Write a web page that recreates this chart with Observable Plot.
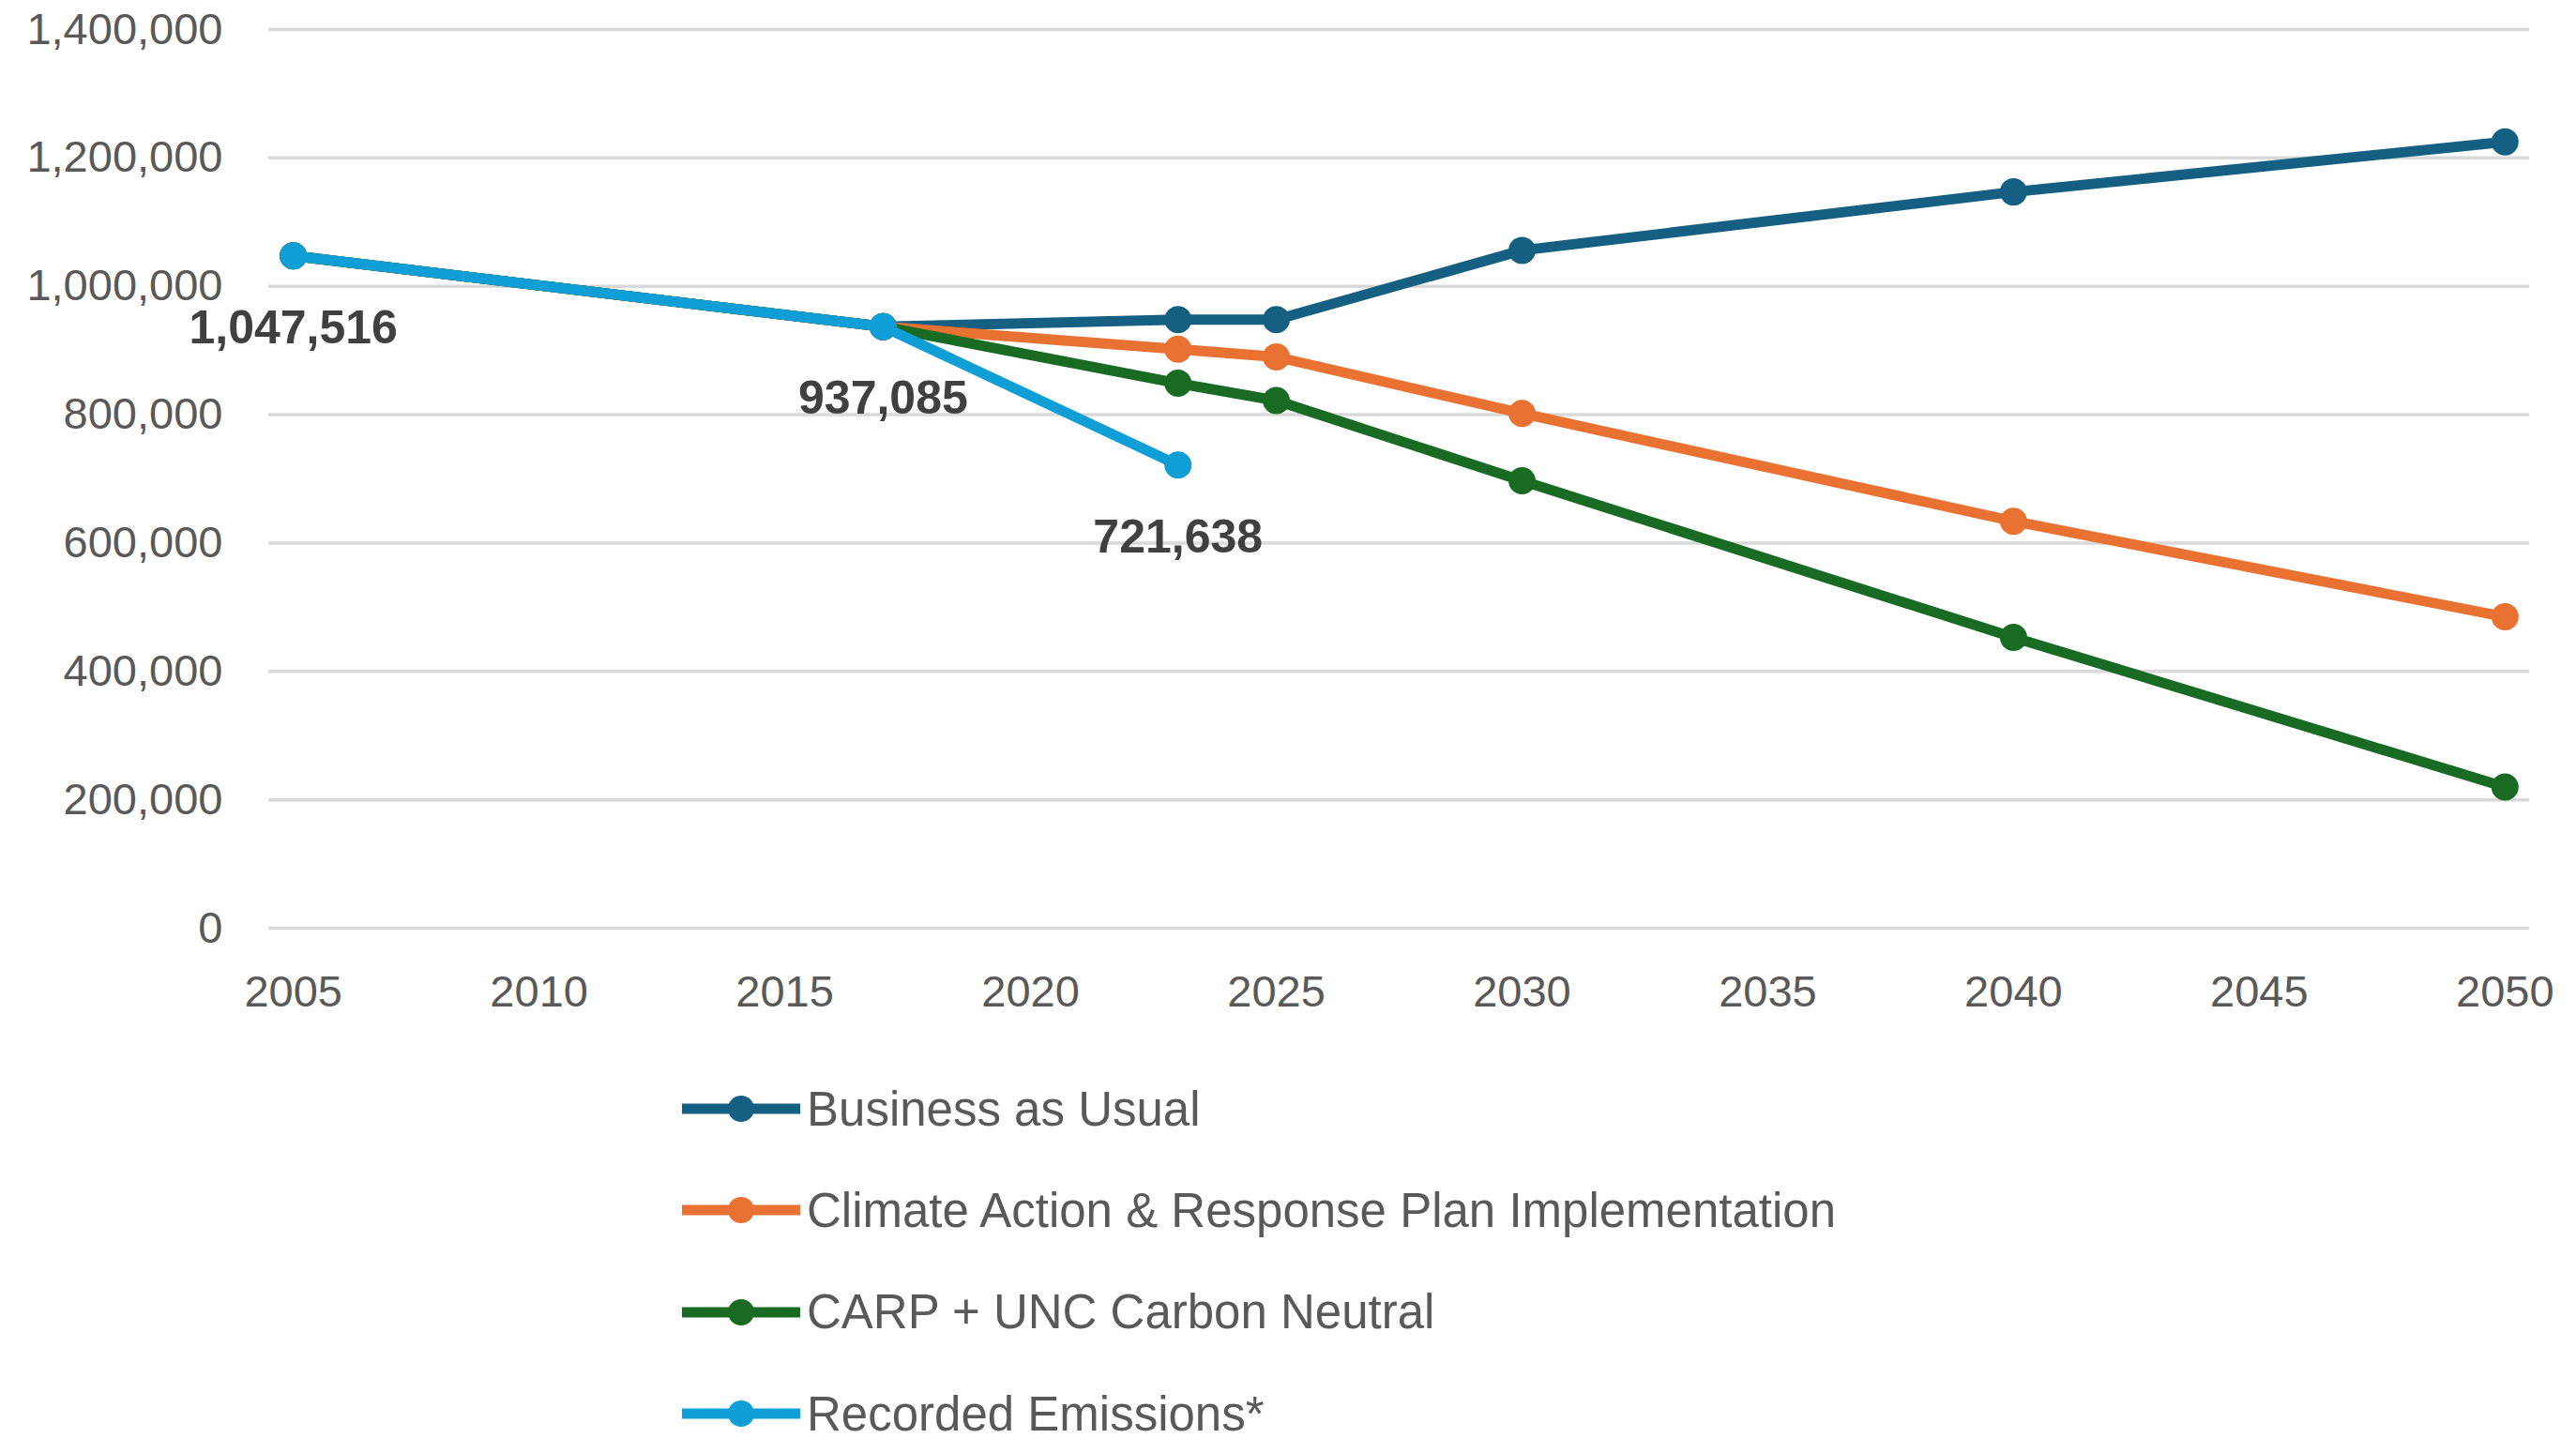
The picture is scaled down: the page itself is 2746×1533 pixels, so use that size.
<!DOCTYPE html>
<html>
<head>
<meta charset="utf-8">
<script src="https://cdn.jsdelivr.net/npm/d3@7"></script>
<script src="https://cdn.jsdelivr.net/npm/@observablehq/plot@0.6"></script>
<style>
  html, body { margin: 0; padding: 0; background: #fff; overflow: hidden; }
  body { width: 2746px; height: 1533px; font-family: "Liberation Sans", Arial, sans-serif; }
  #legend { padding-top: 18px; padding-left: 727px; }
  .row { height: 108.3px; display: flex; align-items: center; }
  .row span { font-size: 51px; color: #595959; margin-left: 7px; white-space: nowrap; }
</style>
</head>
<body>
<div id="chart"></div>
<div id="legend"></div>
<script>
// ---- data ----
const scenarioYears = [2005, 2017, 2023, 2025, 2030, 2040, 2050];
const businessAsUsual = [1047516, 937085, 948000, 948000, 1056000, 1147000, 1225000];
const carpImplementation = [1047516, 937085, 902000, 890000, 802000, 634000, 485000];
const carpUncNeutral = [1047516, 937085, 849000, 822000, 697000, 453000, 220000];
const recordedYears = [2005, 2017, 2023];
const recordedEmissions = [1047516, 937085, 721638];

const seriesNames = [
  "Business as Usual",
  "Climate Action & Response Plan Implementation",
  "CARP + UNC Carbon Neutral",
  "Recorded Emissions*"
];
const seriesColors = ["#156082", "#E97132", "#196B24", "#0F9ED5"];
const xTicks = [2005, 2010, 2015, 2020, 2025, 2030, 2035, 2040, 2045, 2050];
const yTicks = [0, 200000, 400000, 600000, 800000, 1000000, 1200000, 1400000];

// ---- build tables ----
const seriesValues = [businessAsUsual, carpImplementation, carpUncNeutral, recordedEmissions];
const seriesYears = [scenarioYears, scenarioYears, scenarioYears, recordedYears];
const rows = [];
seriesValues.forEach((vals, i) => {
  vals.forEach((v, j) => rows.push({series: seriesNames[i], idx: i, year: seriesYears[i][j], value: v}));
});
const recorded = rows.filter(d => d.idx === 3);

const fmt = d3.format(",");
const marks = [
  Plot.ruleY(yTicks, {stroke: "#d9d9d9", strokeWidth: 3.5}),
  Plot.axisY({ticks: yTicks, tickFormat: fmt, tickSize: 0, tickPadding: 49, fontSize: 47, color: "#595959", label: null}),
  Plot.axisX({ticks: xTicks, tickFormat: d => String(d), tickSize: 0, tickPadding: 50, fontSize: 47, color: "#595959", label: null})
];
for (let i = 0; i < 4; i++) {
  const data = rows.filter(d => d.idx === i);
  marks.push(Plot.line(data, {x: "year", y: "value", stroke: seriesColors[i], strokeWidth: 11, strokeLinejoin: "round"}));
  marks.push(Plot.dot(data, {x: "year", y: "value", fill: seriesColors[i], r: 14.5, stroke: null}));
}
marks.push(Plot.text(recorded, {x: "year", y: "value", text: d => fmt(d.value), dy: 77, fontSize: 50, fontWeight: "bold", fill: "#404040"}));

const chart = Plot.plot({
  width: 2746,
  height: 1110,
  marginTop: 31,
  marginBottom: 121,
  marginLeft: 286,
  marginRight: 50,
  style: {fontFamily: "Liberation Sans, Arial, sans-serif", background: "#fff"},
  x: {domain: [2004.5, 2050.5]},
  y: {domain: [0, 1400000]},
  marks
});
document.getElementById("chart").appendChild(chart);

// ---- legend ----
const legend = document.getElementById("legend");
seriesNames.forEach((name, i) => {
  const row = document.createElement("div");
  row.className = "row";
  row.innerHTML = `<svg width="126" height="32"><line x1="0" x2="126" y1="16" y2="16" stroke="${seriesColors[i]}" stroke-width="11"/><circle cx="63" cy="16" r="14" fill="${seriesColors[i]}"/></svg>`;
  const s = document.createElement("span");
  s.textContent = name;
  row.appendChild(s);
  legend.appendChild(row);
});
</script>
</body>
</html>
